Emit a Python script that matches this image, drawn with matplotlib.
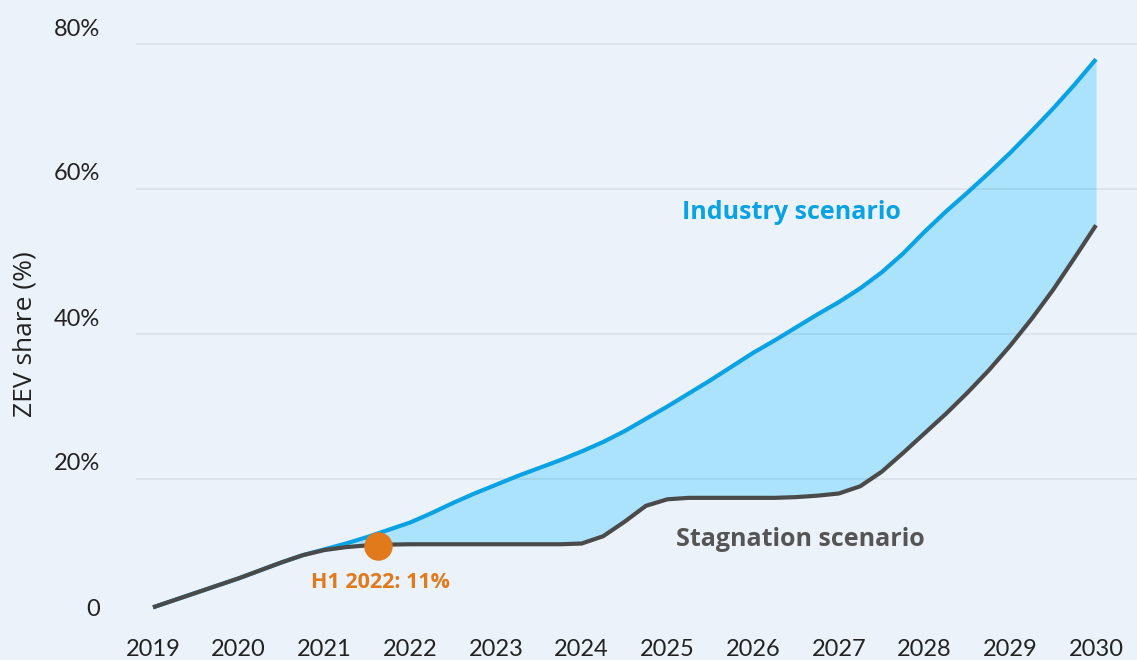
import matplotlib
matplotlib.use("Agg")
import matplotlib.pyplot as plt
import matplotlib.transforms as mtransforms

# ---- data (quarter-year resolution) ----
years = [2019 + 0.25 * i for i in range(45)]
industry = [2.3, 3.3, 4.3, 5.3, 6.3, 7.4, 8.5, 9.5,
            10.3, 11.1, 12.0, 13.0, 14.0, 15.3, 16.7, 18.0,
            19.2, 20.4, 21.5, 22.6, 23.8, 25.1, 26.6, 28.3,
            30.0, 31.8, 33.6, 35.5, 37.4, 39.1, 40.9, 42.7,
            44.4, 46.3, 48.5, 51.1, 54.1, 56.9, 59.5, 62.2,
            65.0, 68.0, 71.1, 74.4, 77.9]
stagnation = [2.3, 3.3, 4.3, 5.3, 6.3, 7.4, 8.5, 9.5,
              10.2, 10.6, 10.85, 10.95, 11.0, 11.0, 11.0, 11.0,
              11.0, 11.0, 11.0, 11.0, 11.1, 12.1, 14.1, 16.3,
              17.2, 17.4, 17.4, 17.4, 17.4, 17.4, 17.5, 17.7,
              18.0, 19.0, 21.0, 23.6, 26.3, 29.0, 31.9, 35.0,
              38.4, 42.1, 46.1, 50.5, 55.0]
h1_x, h1_y = 2021.62, 10.8
h1_label = "H1 2022: 11%"
xtick_years = list(range(2019, 2031))
ytick_vals = [0, 20, 40, 60, 80]
ytick_labels = ["0", "20%", "40%", "60%", "80%"]

BG = "#EBF2FA"
FILL = "#ABE3FD"
BLUE = "#0AA2E2"
GRAY = "#4A4A4A"
ORANGE = "#E07A1B"
FONT = ["Lato", "DejaVu Sans"]
LABEL_FONT = ["Open Sans", "DejaVu Sans"]

plt.rcParams["font.family"] = FONT

W, H = 1137, 660
fig = plt.figure(figsize=(W / 100, H / 100), dpi=100, facecolor=BG)
ax = fig.add_axes([136 / W, 36 / H, 1 - 136 / W, 624 / H])
ax.set_facecolor(BG)

x0_px, x1_px = 153, 1096
ppy = (x1_px - x0_px) / 11.0
ax.set_xlim(2019 - (x0_px - 136) / ppy, 2030 + (W - x1_px) / ppy)
ax.set_ylim(0, 624 / 7.25)

ax.fill_between(years, stagnation, industry, color=FILL, lw=0, zorder=1)
for v in ytick_vals[1:]:
    ax.axhline(v, color="black", alpha=0.07, lw=1.2, zorder=2)
ax.plot(years, industry, color=BLUE, lw=3, solid_capstyle="butt",
        solid_joinstyle="round", zorder=3)
ax.plot(years, stagnation, color=GRAY, lw=3, solid_capstyle="butt",
        solid_joinstyle="round", zorder=4)
ax.scatter([h1_x], [h1_y], s=420, color=ORANGE, zorder=5, linewidths=0)

ax.text(h1_x + 0.03, 5.66, h1_label, color=ORANGE, fontsize=15.5, fontweight="bold",
        ha="center", va="center", family=LABEL_FONT)
ax.text(2026.45, 56.7, "Industry scenario", color=BLUE, fontsize=18,
        fontweight="bold", ha="center", va="center", family=LABEL_FONT)
ax.text(2026.55, 11.7, "Stagnation scenario", color="#555555", fontsize=18,
        fontweight="bold", ha="center", va="center", family=LABEL_FONT)

for s in ax.spines.values():
    s.set_visible(False)

ax.set_xticks(xtick_years)
ax.set_xticklabels([str(y) for y in xtick_years], fontsize=17, color="#222222")
ax.tick_params(axis="x", length=0, pad=11)
ax.set_yticks(ytick_vals)
ax.set_yticklabels(ytick_labels, fontsize=17, color="#222222")
ax.tick_params(axis="y", length=0, pad=26)
off = mtransforms.ScaledTranslation(0, 17 / 100, fig.dpi_scale_trans)
for lab in ax.get_yticklabels():
    lab.set_transform(lab.get_transform() + off)

fig.text(25 / W, 1 - 334 / H, "ZEV share (%)", rotation=90, fontsize=19,
         color="#222222", ha="center", va="center", family=LABEL_FONT)

fig.savefig("out.png", dpi=100, facecolor=BG)
